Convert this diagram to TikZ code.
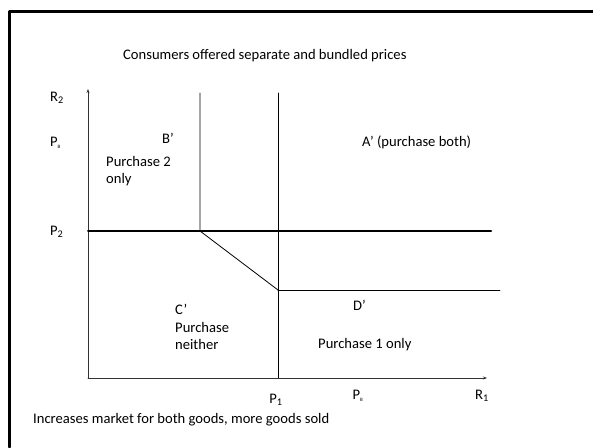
\documentclass[tikz,border=0pt]{standalone}
\usepackage{fontspec}
\setmainfont{Carlito}
\usetikzlibrary{arrows.meta}

\begin{document}
\begin{tikzpicture}[x=1pt,y=-1pt,>={Stealth[length=4pt,width=3pt]}, font=\fontsize{14.6}{17.5}\selectfont, line join=round, line cap=round,
        lbl/.style={inner sep=0pt, anchor=west},
        curve/.style={line width=0.8pt},
        thickline/.style={line width=2pt},
        framing/.style={draw=black, line width=3pt}]
        \useasboundingbox (0,0) rectangle (593,447);
        % frame
        \coordinate (FBL) at (9,447);
        \coordinate (FTL) at (9,11);
        \coordinate (FTR) at (593,11);
        \draw[framing] (FBL) -- (FTL) -- (FTR);
        % axes
        \coordinate (O) at (88,378);
        \coordinate (Ytop) at (88,89);
        \coordinate (Xend) at (487,378);
        \draw[->, line width=0.8pt, black!80] (O) -- (Ytop);
        \draw[->, line width=0.8pt, black!80] (O) -- (Xend);
        % boundaries
        \coordinate (K) at (200,231);
        \coordinate (Kt) at (200,93);
        \coordinate (M) at (278,290);
        \coordinate (Mt) at (278,93);
        \coordinate (Mb) at (278,378);
        \coordinate (P2l) at (88,231);
        \coordinate (P2r) at (491,231);
        \coordinate (Dr) at (500,290);
        \draw[thickline] (P2l) -- (P2r);
        \draw[curve] (Kt) -- (K) -- (M);
        \draw[curve] (Mt) -- (Mb);
        \draw[curve] (M) -- (Dr);
        % labels
        \node[lbl] (title) at (123,56) {Consumers offered separate and bundled prices};
        \node[lbl] (R2) at (50,98) {R\textsubscript{2}};
        \node[lbl] (PBy) at (50,143) {P\textsubscript{\tiny B}};
        \node[lbl] (P2) at (50,232) {P\textsubscript{2}};
        \node[lbl] (Bp) at (162,138) {B’};
        \node[lbl, align=left] (buy2) at (106,171) {Purchase 2\\only};
        \node[lbl] (Ap) at (362,142) {A’ (purchase both)};
        \node[lbl, align=left] (Cp) at (175,327) {C’\\Purchase\\neither};
        \node[lbl] (Dp) at (353,305) {D’};
        \node[lbl] (buy1) at (318,345) {Purchase 1 only};
        \node[inner sep=0pt] (P1) at (276,400) {P\textsubscript{1}};
        \node[inner sep=0pt] (PBx) at (358,396) {P\textsubscript{\tiny B}};
        \node[inner sep=0pt] (R1) at (482,396) {R\textsubscript{1}};
        \node[lbl] (note) at (33,420) {Increases market for both goods, more goods sold};
\end{tikzpicture}
\end{document}
